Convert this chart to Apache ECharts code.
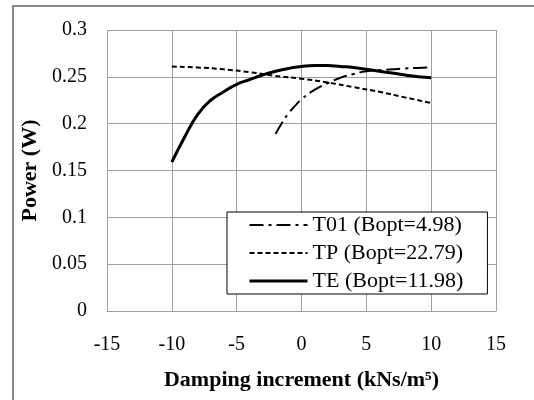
<!DOCTYPE html>
<html>
<head>
<meta charset="utf-8">
<script src="https://cdn.jsdelivr.net/npm/echarts@6/dist/echarts.min.js"></script>
<style>html,body{margin:0;padding:0;background:#fff}#c{width:534px;height:400px}</style>
</head>
<body>
<div id="c"></div>
<script>
const seriesNames = ['T01 (Bopt=4.98)', 'TP (Bopt=22.79)', 'TE (Bopt=11.98)'];
const t01X = [-2, -1.5, -1, -0.5, 0, 1, 2, 3, 4, 5, 6, 7, 8, 9, 10];
const t01Y = [0.189, 0.201, 0.211, 0.219, 0.226, 0.236, 0.243, 0.249, 0.253, 0.256, 0.257, 0.258, 0.259, 0.2595, 0.260];
const tpX = [-10, -8, -6, -4, -2, 0, 2, 4, 6, 8, 10];
const tpY = [0.261, 0.260, 0.258, 0.255, 0.251, 0.248, 0.244, 0.239, 0.234, 0.228, 0.222];
const teX = [-10, -9, -8, -7, -6, -5, -4, -3, -2, -1, 0, 1, 2, 3, 4, 5, 6, 7, 8, 9, 10];
const teY = [0.159, 0.186, 0.210, 0.225, 0.234, 0.242, 0.247, 0.252, 0.256, 0.259, 0.261, 0.262, 0.262, 0.261, 0.260, 0.258, 0.256, 0.254, 0.252, 0.250, 0.249];
const xTicks = [-15, -10, -5, 0, 5, 10, 15];
const yTicks = [0, 0.05, 0.1, 0.15, 0.2, 0.25, 0.3];
const xTitle = 'Damping increment (kNs/m⁵)';
const yTitle = 'Power (W)';

const zip = (xs, ys) => xs.map((x, i) => [x, ys[i]]);
const serif = '"Liberation Serif", "DejaVu Serif", serif';
const lineStyles = [
  { color: '#000', width: 2, type: [14, 5, 3, 5] },
  { color: '#000', width: 2, type: [5, 3] },
  { color: '#000', width: 3, type: 'solid' }
];

const chart = echarts.init(document.getElementById('c'));
chart.setOption({
  animation: false,
  backgroundColor: '#fff',
  graphic: [{
    type: 'rect',
    shape: { x: 13, y: 6, width: 524, height: 400 },
    style: { fill: 'none', stroke: '#888', lineWidth: 2 },
    silent: true
  }],
  grid: { left: 107, right: 38, top: 30, bottom: 89 },
  xAxis: {
    type: 'value',
    min: xTicks[0], max: xTicks[xTicks.length - 1], interval: 5,
    name: xTitle,
    nameLocation: 'middle',
    nameGap: 58,
    nameTextStyle: { fontFamily: serif, fontWeight: 'bold', fontSize: 22, color: '#000' },
    axisLine: { show: true, lineStyle: { color: '#a0a0a0', width: 1 } },
    axisTick: { show: false },
    axisLabel: { fontFamily: serif, fontSize: 20, color: '#000', margin: 24 },
    splitLine: { show: true, lineStyle: { color: '#a0a0a0', width: 1 } }
  },
  yAxis: {
    type: 'value',
    min: yTicks[0], max: yTicks[yTicks.length - 1], interval: 0.05,
    name: yTitle,
    nameLocation: 'middle',
    nameGap: 66,
    nameRotate: 90,
    nameTextStyle: { fontFamily: serif, fontWeight: 'bold', fontSize: 22, color: '#000' },
    axisLine: { show: true, lineStyle: { color: '#a0a0a0', width: 1 } },
    axisTick: { show: false },
    axisLabel: { fontFamily: serif, fontSize: 20, color: '#000', margin: 20,
      formatter: v => String(Math.round(v * 100) / 100) },
    splitLine: { show: true, lineStyle: { color: '#a0a0a0', width: 1 } }
  },
  legend: {
    orient: 'vertical',
    left: 227, top: 212,
    backgroundColor: '#fff',
    borderColor: '#000', borderWidth: 1, borderRadius: 0,
    padding: [2, 24, 2, 21],
    itemGap: 6,
    itemWidth: 58, itemHeight: 14,
    itemStyle: { opacity: 0 },
    textStyle: { fontFamily: serif, fontSize: 22, color: '#000' },
    data: seriesNames.map((n, i) => ({ name: n, lineStyle: lineStyles[i] }))
  },
  series: seriesNames.map((n, i) => ({
    name: n, type: 'line',
    data: zip([t01X, tpX, teX][i], [t01Y, tpY, teY][i]),
    smooth: true, symbol: 'none', z: i === 2 ? 4 : 3,
    lineStyle: lineStyles[i],
    itemStyle: { color: '#000' }
  }))
});
</script>
</body>
</html>
